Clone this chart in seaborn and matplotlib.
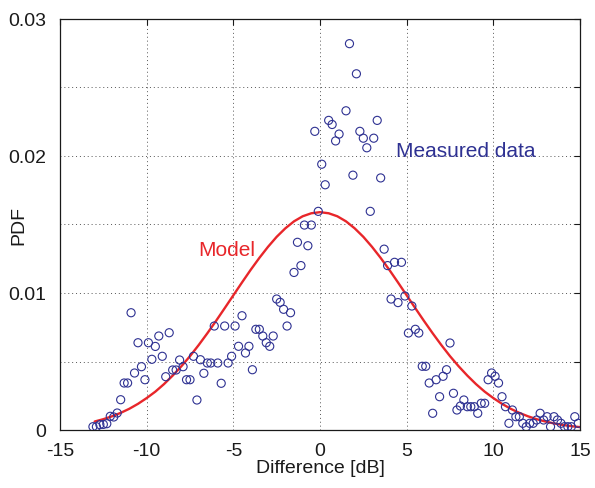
import matplotlib
matplotlib.use("Agg")
import matplotlib.pyplot as plt
import seaborn as sns
import numpy as np
import pandas as pd

# Measured data: bin centers [dB] and PDF values (x1e-3)
diff_db = [-13.1, -12.9, -12.7, -12.5, -12.3, -12.1, -11.9, -11.7, -11.5, -11.3,
           -11.1, -10.9, -10.7, -10.5, -10.3, -10.1, -9.9, -9.7, -9.5, -9.3,
           -9.1, -8.9, -8.7, -8.5, -8.3, -8.1, -7.9, -7.7, -7.5, -7.3,
           -7.1, -6.9, -6.7, -6.5, -6.3, -6.1, -5.9, -5.7, -5.5, -5.3,
           -5.1, -4.9, -4.7, -4.5, -4.3, -4.1, -3.9, -3.7, -3.5, -3.3,
           -3.1, -2.9, -2.7, -2.5, -2.3, -2.1, -1.9, -1.7, -1.5, -1.3,
           -1.1, -0.9, -0.7, -0.5, -0.3, -0.1, 0.1, 0.3, 0.5, 0.7,
           0.9, 1.1, 1.5, 1.7, 1.9, 2.1, 2.3, 2.5, 2.7, 2.9,
           3.1, 3.3, 3.5, 3.7, 3.9, 4.1, 4.3, 4.5, 4.7, 4.9,
           5.1, 5.3, 5.5, 5.7, 5.9, 6.1, 6.3, 6.5, 6.7, 6.9,
           7.1, 7.3, 7.5, 7.7, 7.9, 8.1, 8.3, 8.5, 8.7, 8.9,
           9.1, 9.3, 9.5, 9.7, 9.9, 10.1, 10.3, 10.5, 10.7, 10.9,
           11.1, 11.3, 11.5, 11.7, 11.9, 12.1, 12.3, 12.5, 12.7, 12.9,
           13.1, 13.3, 13.5, 13.7, 13.9, 14.1, 14.3, 14.5, 14.7, 14.9]
pdf_milli = [0.24, 0.24, 0.39, 0.41, 0.46, 1.0, 0.95, 1.24, 2.21, 3.43,
             3.43, 8.56, 4.16, 6.37, 4.62, 3.67, 6.37, 5.16, 6.1, 6.86,
             5.38, 3.89, 7.1, 4.38, 4.38, 5.11, 4.62, 3.67, 3.67, 5.38,
             2.19, 5.13, 4.14, 4.89, 4.89, 7.59, 4.89, 3.41, 7.59, 4.89,
             5.38, 7.59, 6.11, 8.34, 5.62, 6.11, 4.40, 7.35, 7.35, 6.86,
             6.37, 6.11, 6.86, 9.56, 9.32, 8.81, 7.59, 8.56, 11.5, 13.7,
             12.0, 14.96, 13.45, 14.96, 21.8, 15.96, 19.4, 17.9, 22.6, 22.3,
             21.1, 21.6, 23.3, 28.2, 18.6, 26.0, 21.8, 21.3, 20.6, 15.96,
             21.3, 22.6, 18.4, 13.2, 12.0, 9.56, 12.24, 9.3, 12.24, 9.78,
             7.08, 9.05, 7.35, 7.08, 4.65, 4.65, 3.43, 1.22, 3.67, 2.43,
             3.92, 4.4, 6.35, 2.68, 1.46, 1.75, 2.19, 1.7, 1.7, 1.7,
             1.22, 1.95, 1.95, 3.67, 4.16, 3.92, 3.43, 2.43, 1.7, 0.49,
             1.46, 0.97, 0.97, 0.49, 0.24, 0.49, 0.49, 0.73, 1.22, 0.73,
             0.97, 0.24, 0.97, 0.73, 0.49, 0.24, 0.24, 0.24, 0.97, 0.49]

# Model curve read at 0.5 dB steps (PDF x1e-3)
model_db = [-13.0, -12.5, -12.0, -11.5, -11.0, -10.5, -10.0, -9.5, -9.0, -8.5,
            -8.0, -7.5, -7.0, -6.5, -6.0, -5.5, -5.0, -4.5, -4.0, -3.5,
            -3.0, -2.5, -2.0, -1.5, -1.0, -0.5, 0.0, 0.5, 1.0, 1.5,
            2.0, 2.5, 3.0, 3.5, 4.0, 4.5, 5.0, 5.5, 6.0, 6.5,
            7.0, 7.5, 8.0, 8.5, 9.0, 9.5, 10.0, 10.5, 11.0, 11.5,
            12.0, 12.5, 13.0, 13.5, 14.0, 14.5, 15.0]
model_milli = [0.62, 0.79, 1.00, 1.25, 1.55, 1.91, 2.33, 2.80, 3.35, 3.97,
               4.65, 5.39, 6.20, 7.06, 7.96, 8.89, 9.83, 10.77, 11.69, 12.56,
               13.37, 14.10, 14.72, 15.23, 15.60, 15.82, 15.90, 15.82, 15.60, 15.23,
               14.72, 14.10, 13.37, 12.56, 11.69, 10.77, 9.83, 8.89, 7.96, 7.06,
               6.20, 5.39, 4.65, 3.97, 3.35, 2.80, 2.33, 1.91, 1.55, 1.25,
               1.00, 0.79, 0.62, 0.48, 0.37, 0.28, 0.21]

x_ticks = [-15, -10, -5, 0, 5, 10, 15]
y_ticks = [0, 0.005, 0.01, 0.015, 0.02, 0.025, 0.03]
y_tick_labels = ["0", "", "0.01", "", "0.02", "", "0.03"]

meas = pd.DataFrame({"x": diff_db, "y": np.array(pdf_milli) / 1000.0})
model = pd.DataFrame({"x": model_db, "y": np.array(model_milli) / 1000.0})

sns.set_style("white")
plt.rcParams["font.family"] = ["Liberation Sans", "DejaVu Sans"]

fig = plt.figure(figsize=(5.95, 4.89), dpi=100)
ax = fig.add_axes([60 / 595, 1 - 431 / 489, 520 / 595, 411 / 489])

blue = "#2e3192"
red = "#e8262a"
txt = "#1a1a1a"

sns.lineplot(data=model, x="x", y="y", ax=ax, color=red, linewidth=1.7, zorder=3)
sns.scatterplot(data=meas, x="x", y="y", ax=ax, marker="o", s=34,
                facecolor="none", edgecolor=blue, linewidth=0.8, zorder=4)

ax.set_xlim(-15, 15)
ax.set_ylim(0, 0.03)
ax.set_xticks(x_ticks)
ax.set_xticklabels([str(t) for t in x_ticks])
ax.set_yticks(y_ticks)
ax.set_yticklabels(y_tick_labels)
ax.tick_params(direction="in", length=4, width=0.8, top=True, right=True,
               labelsize=14, colors=txt)
ax.tick_params(axis="x", pad=9)
ax.tick_params(axis="y", pad=10)
ax.grid(True, linestyle=(0, (1, 3)), color="#555555", linewidth=0.7)
for s in ax.spines.values():
    s.set_visible(True)
    s.set_color(txt)
    s.set_linewidth(0.9)

ax.set_xlabel("Difference [dB]", fontsize=14, color=txt, labelpad=0)
ax.set_ylabel("PDF", fontsize=14, color=txt)
ax.yaxis.set_label_coords(-0.062, 0.5)

ax.text(-7.05, 0.0132, "Model", color=red, fontsize=15, va="center", ha="left")
ax.text(4.4, 0.0204, "Measured data", color=blue, fontsize=15, va="center", ha="left")

fig.savefig("out.png", dpi=100)
